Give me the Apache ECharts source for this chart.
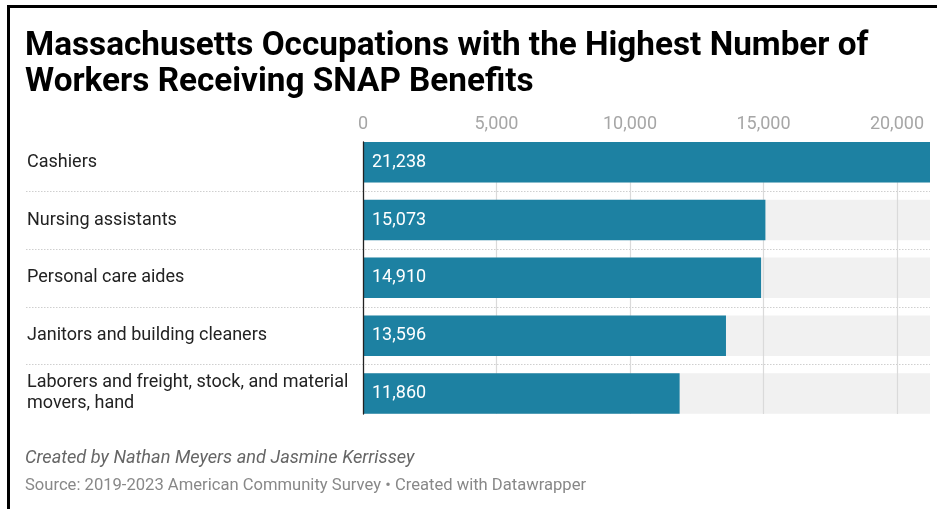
<!DOCTYPE html>
<html>
<head>
<meta charset="utf-8">
<script src="https://cdn.jsdelivr.net/npm/echarts@6/dist/echarts.min.js"></script>
<style>
  html, body { margin: 0; padding: 0; background: #fff; }
  #chart { width: 937px; height: 509px; }
</style>
</head>
<body>
<div id="chart"></div>
<script>
// Occupations and number of workers receiving SNAP benefits
const occupations = [
  'Cashiers',
  'Nursing assistants',
  'Personal care aides',
  'Janitors and building cleaners',
  'Laborers and freight, stock, and material movers, hand'
];
const workers = [21238, 15073, 14910, 13596, 11860];
const tickStep = 5000;

const titleLines = [
  'Massachusetts Occupations with the Highest Number of',
  'Workers Receiving SNAP Benefits'
];
const creditText = 'Created by Nathan Meyers and Jasmine Kerrissey';
const sourceText = 'Source: 2019-2023 American Community Survey \u2022 Created with Datawrapper';

const FONT = 'Roboto, "Noto Sans", sans-serif';
const BAR_BLUE = '#1d81a2';
const TRACK = '#f1f1f1';
const trackMax = Math.max(...workers);
const fmt = v => Number(v).toLocaleString('en-US');

// shared layout
const ROWS_TOP = 133.3, ROWS_BOTTOM = 86.6;
const PLOT_LEFT = 363, PLOT_RIGHT = 7;

const chart = echarts.init(document.getElementById('chart'), null, { renderer: 'canvas' });

chart.setOption({
  animation: false,
  backgroundColor: '#fff',
  graphic: [
    // frame edges
    { type: 'rect', shape: { x: 7, y: 5, width: 3, height: 504 }, style: { fill: '#000' }, silent: true },
    { type: 'rect', shape: { x: 7, y: 5, width: 930, height: 3 }, style: { fill: '#000' }, silent: true },
    {
      type: 'text', left: 25, top: 30,
      style: { text: titleLines[0], font: 'bold 33.3px ' + FONT, fill: '#000' }
    },
    {
      type: 'text', left: 25, top: 66,
      style: { text: titleLines[1], font: 'bold 33.3px ' + FONT, fill: '#000' }
    },
    {
      type: 'text', left: 25, top: 449,
      style: { text: creditText, font: 'italic 18.2px ' + FONT, fill: '#666' }
    },
    {
      type: 'text', left: 25, top: 477,
      style: { text: sourceText, font: '16.6px ' + FONT, fill: '#888' }
    }
  ],
  grid: [
    // row labels and dotted separators
    { left: 26, right: PLOT_RIGHT, top: ROWS_TOP, bottom: ROWS_BOTTOM },
    // bars
    { left: PLOT_LEFT, right: PLOT_RIGHT, top: ROWS_TOP, bottom: ROWS_BOTTOM },
    // vertical gridlines and zero line
    { left: PLOT_LEFT, right: PLOT_RIGHT, top: 142, bottom: 95 }
  ],
  xAxis: [
    { gridIndex: 0, type: 'value', show: false, min: 0, max: 1 },
    {
      gridIndex: 1, type: 'value', position: 'top',
      min: 0, max: trackMax, interval: tickStep,
      axisLine: { show: false }, axisTick: { show: false }, splitLine: { show: false },
      axisLabel: {
        show: true, showMaxLabel: false, margin: 0,
        color: '#a6a6a6', fontFamily: FONT, fontSize: 18,
        formatter: v => fmt(v)
      }
    },
    {
      gridIndex: 2, type: 'value', position: 'top', z: 2,
      min: 0, max: trackMax, interval: tickStep,
      axisLine: { show: false }, axisTick: { show: false }, axisLabel: { show: false },
      splitLine: {
        show: true, showMinLine: false, showMaxLine: false,
        lineStyle: { color: '#dadada', width: 1.2 }
      }
    }
  ],
  yAxis: [
    {
      gridIndex: 0, type: 'category', inverse: true, data: occupations,
      axisLine: { show: false }, axisTick: { show: false },
      axisLabel: {
        show: true, align: 'left', margin: -1,
        width: 330, overflow: 'break', lineHeight: 21,
        color: '#222', fontFamily: FONT, fontSize: 18
      },
      splitLine: {
        show: true, showMinLine: false, showMaxLine: false,
        lineStyle: { color: '#cfcfcf', type: [1.5, 1.5], width: 1 }
      }
    },
    {
      gridIndex: 1, type: 'category', inverse: true, data: occupations, show: false
    },
    {
      gridIndex: 2, type: 'value', z: 5, min: 0, max: 1,
      axisLine: { show: true, lineStyle: { color: '#222', width: 1.3 } },
      axisTick: { show: false }, axisLabel: { show: false }, splitLine: { show: false }
    }
  ],
  series: [
    {
      // full-width track behind each bar
      name: 'track', type: 'bar', xAxisIndex: 1, yAxisIndex: 1, z: 1,
      data: occupations.map(() => trackMax),
      barWidth: 40.5, barGap: '-100%', silent: true,
      itemStyle: { color: TRACK }
    },
    {
      name: 'Workers', type: 'bar', xAxisIndex: 1, yAxisIndex: 1, z: 3,
      data: workers, barWidth: 40.5, barGap: '-100%',
      itemStyle: { color: BAR_BLUE },
      label: {
        show: true, position: 'insideLeft', distance: 9,
        color: '#fff', fontFamily: FONT, fontSize: 18,
        formatter: p => fmt(p.value)
      }
    }
  ]
});
</script>
</body>
</html>
